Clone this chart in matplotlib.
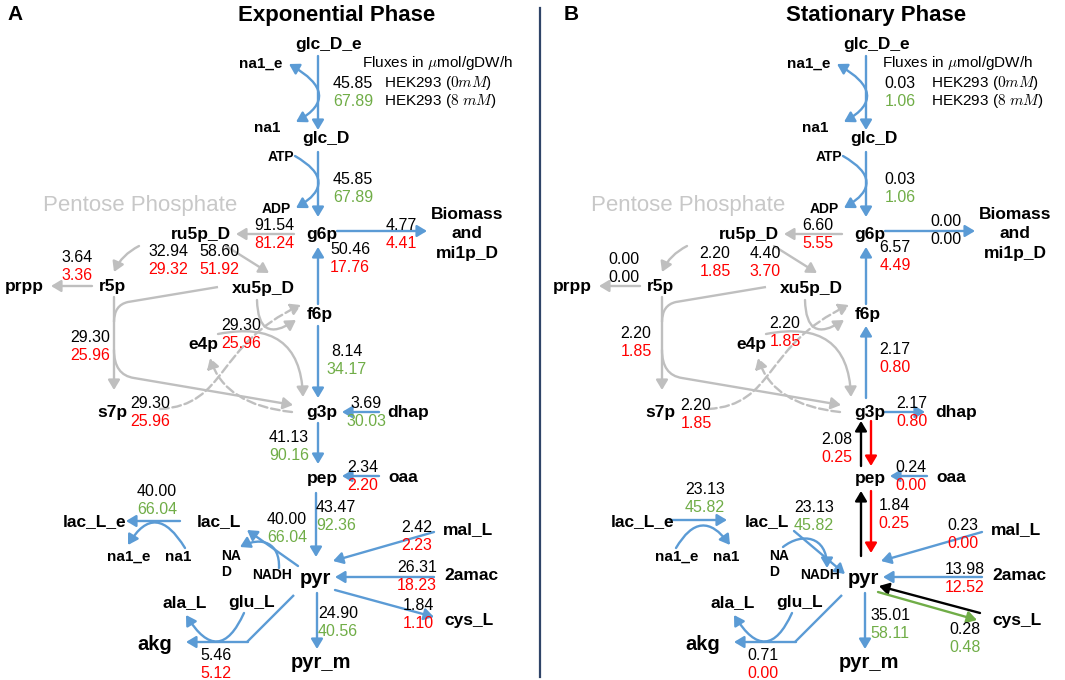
import numpy as np
import matplotlib
matplotlib.use("Agg")
import matplotlib.pyplot as plt
from matplotlib.patches import FancyArrowPatch, PathPatch
from matplotlib.path import Path

plt.rcParams['font.family'] = ['Liberation Sans', 'DejaVu Sans']
plt.rcParams['mathtext.fontset'] = 'cm'

# fluxes in umol/gDW/h, HEK293 at 0 mM and at 8 mM
reactions = ["glc_in", "hex", "g6p_ru5p", "biomass", "f6p_g6p", "ru5p_r5p",
             "ru5p_xu5p", "r5p_prpp", "r5p_s7p", "e4p_tkt", "s7p_tal",
             "f6p_g3p", "g3p_dhap", "g3p_pep", "oaa_pep", "pep_pyr",
             "lac_ex", "ldh", "mal_pyr", "amac_pyr", "cys_pyr", "pyr_m", "pyr_akg"]
exp_0mM = [45.85, 45.85, 91.54, 4.77, 50.46, 32.94, 58.60, 3.64, 29.30, 29.30, 29.30,
           8.14, 3.69, 41.13, 2.34, 43.47, 40.00, 40.00, 2.42, 26.31, 1.84, 24.90, 5.46]
exp_8mM = [67.89, 67.89, 81.24, 4.41, 17.76, 29.32, 51.92, 3.36, 25.96, 25.96, 25.96,
           34.17, 30.03, 90.16, 2.20, 92.36, 66.04, 66.04, 2.23, 18.23, 1.10, 40.56, 5.12]
sta_0mM = [0.03, 0.03, 6.60, 0.00, 6.57, 2.20, 4.40, 0.00, 2.20, 2.20, 2.20,
           2.17, 2.17, 2.08, 0.24, 1.84, 23.13, 23.13, 0.23, 13.98, 0.28, 35.01, 0.71]
sta_8mM = [1.06, 1.06, 5.55, 0.00, 4.49, 1.85, 3.70, 0.00, 1.85, 1.85, 1.85,
           0.80, 0.80, 0.25, 0.00, 0.25, 45.82, 45.82, 0.00, 12.52, 0.48, 58.11, 0.00]

panel_letters = ["A", "B"]
panel_titles = ["Exponential Phase", "Stationary Phase"]
conditions = [r"HEK293 ($0mM$)", r"HEK293 ($8\ mM$)"]

BLUE = '#5B9BD5'
GRAY = '#BFBFBF'
GREEN = '#70AD47'
RED = '#FF0000'
LW = 1.7
HEAD = '-|>,head_length=0.45,head_width=0.27'
MS = 13
DX = 548  # shift of panel B relative to panel A

# node labels: text, x, y, size (panel A coordinates)
nodes = [
    ("glc_D_e", 329, 44, 12.5), ("na1_e", 261, 64, 11), ("na1", 267, 128, 11),
    ("glc_D", 326, 139, 12.5), ("ATP", 281, 157, 10), ("ADP", 276, 209, 10),
    ("ru5p_D", 201, 234, 12.5), ("g6p", 322, 234, 12.5),
    ("Biomass\nand\nmi1p_D", 467, 234, 12.5),
    ("prpp", 24, 286, 12.5), ("r5p", 112, 286, 12.5), ("xu5p_D", 263, 288, 12.5),
    ("f6p", 320, 315, 12.5), ("e4p", 203, 344, 12.5), ("s7p", 112, 412, 12.5),
    ("g3p", 322, 412, 12.5), ("dhap", 408, 412, 12.5),
    ("pep", 322, 478, 12.5), ("oaa", 403, 478, 12.5),
    ("lac_L_e", 95, 522, 12.5), ("lac_L", 219, 522, 12.5), ("mal_L", 468, 530, 12.5),
    ("na1_e", 129, 557, 11), ("na1", 178, 557, 11),
    ("NADH", 272, 575, 10), ("pyr", 315, 578, 14.5), ("2amac", 471, 575, 12.5),
    ("ala_L", 185, 603, 12.5), ("glu_L", 252, 603, 12.5), ("cys_L", 469, 621, 12.5),
    ("akg", 155, 644, 14.5), ("pyr_m", 321, 663, 14.5),
]

# flux label positions (centre of the upper number)
label_pos = [
    {"glc_in": (353, 83), "hex": (353, 179), "g6p_ru5p": (274, 226), "biomass": (401, 225),
     "f6p_g6p": (350, 250), "ru5p_r5p": (168, 252), "ru5p_xu5p": (219, 252),
     "r5p_prpp": (77, 257), "r5p_s7p": (90, 337), "e4p_tkt": (241, 325),
     "s7p_tal": (150, 404), "f6p_g3p": (347, 351), "g3p_dhap": (366, 403),
     "g3p_pep": (289, 438), "oaa_pep": (363, 467), "pep_pyr": (336, 508),
     "lac_ex": (157, 491), "ldh": (287, 519), "mal_pyr": (417, 527),
     "amac_pyr": (417, 568), "cys_pyr": (418, 605), "pyr_m": (338, 613),
     "pyr_akg": (216, 655)},
    {"glc_in": (900, 83), "hex": (900, 180), "g6p_ru5p": (818, 226), "biomass": (946, 222),
     "f6p_g6p": (895, 248), "ru5p_r5p": (715, 253), "ru5p_xu5p": (765, 253),
     "r5p_prpp": (624, 259), "r5p_s7p": (636, 333), "e4p_tkt": (785, 323),
     "s7p_tal": (696, 405), "f6p_g3p": (895, 350), "g3p_dhap": (912, 403),
     "g3p_pep": (837, 440), "oaa_pep": (911, 468), "pep_pyr": (894, 506),
     "lac_ex": (705, 490), "ldh": (814, 508), "mal_pyr": (963, 525),
     "amac_pyr": (965, 569), "cys_pyr": (965, 630), "pyr_m": (890, 615),
     "pyr_akg": (763, 656)},
]


def change_color(v0, v8):
    if v8 > v0:
        return GREEN
    if v8 < v0:
        return RED
    return 'black'


def arrow(ax, p0, p1, color=BLUE, dx=0, ls='-', style=HEAD):
    a = FancyArrowPatch((p0[0] + dx, p0[1]), (p1[0] + dx, p1[1]), arrowstyle=style,
                        mutation_scale=MS, color=color, lw=LW, shrinkA=0, shrinkB=0,
                        linestyle=ls, zorder=1)
    ax.add_patch(a)


def curve(ax, pts, codes, color=BLUE, dx=0, ls='-', style=HEAD):
    verts = [(x + dx, y) for x, y in pts]
    p = Path(verts, codes)
    if style is None:
        ax.add_patch(PathPatch(p, fill=False, edgecolor=color, lw=LW, linestyle=ls, zorder=1))
    else:
        ax.add_patch(FancyArrowPatch(path=p, arrowstyle=style, mutation_scale=MS,
                                     color=color, lw=LW, linestyle=ls, zorder=1))


def quad(ax, p0, via, p1, **kw):
    c = (2 * via[0] - (p0[0] + p1[0]) / 2, 2 * via[1] - (p0[1] + p1[1]) / 2)
    curve(ax, [p0, c, p1], [Path.MOVETO, Path.CURVE3, Path.CURVE3], **kw)


def cubic(ax, p0, c1, c2, p1, **kw):
    curve(ax, [p0, c1, c2, p1], [Path.MOVETO, Path.CURVE4, Path.CURVE4, Path.CURVE4], **kw)


def draw_panel(ax, i, v0, v8):
    dx = DX * i
    stationary = i == 1
    M, L, Q = Path.MOVETO, Path.LINETO, Path.CURVE3

    # upper glycolysis and uptake
    arrow(ax, (318, 56), (318, 130), dx=dx)
    quad(ax, (289, 64), (318, 94), (296, 122), dx=dx,
         style='<|-|>,head_length=0.45,head_width=0.27')
    arrow(ax, (318, 152), (318, 217), dx=dx)
    quad(ax, (295, 156), (318, 182), (296, 208), dx=dx)
    arrow(ax, (337, 231), (427, 231), dx=dx)
    arrow(ax, (318, 304), (318, 247), dx=dx)

    # pentose phosphate
    arrow(ax, (294, 234), (236, 234), GRAY, dx)
    quad(ax, (139, 246), (124, 257), (114, 272), color=GRAY, dx=dx)
    arrow(ax, (226, 246), (269, 273), GRAY, dx)
    arrow(ax, (92, 286), (51, 286), GRAY, dx)
    arrow(ax, (114, 297), (114, 390), GRAY, dx)
    curve(ax, [(218, 287), (128, 302), (114, 305), (114, 322)], [M, L, Q, Q],
          color=GRAY, dx=dx, style=None)
    curve(ax, [(114, 350), (114, 375), (134, 378), (293, 405)], [M, Q, Q, L],
          color=GRAY, dx=dx)
    curve(ax, [(257, 300), (258, 345), (296, 320)], [M, Q, Q], color=GRAY, dx=dx)
    curve(ax, [(218, 334), (300, 318), (303, 397)], [M, Q, Q], color=GRAY, dx=dx)
    cubic(ax, (160, 409), (228, 405), (215, 345), (301, 305), color=GRAY, dx=dx, ls='--')
    curve(ax, [(292, 412), (225, 405), (210, 358)], [M, Q, Q], color=GRAY, dx=dx, ls='--')

    # lower glycolysis
    if not stationary:
        arrow(ax, (318, 326), (318, 398), dx=dx)
        arrow(ax, (379, 412), (342, 412), dx=dx)
        arrow(ax, (318, 423), (318, 464), dx=dx)
        arrow(ax, (316, 493), (316, 557), dx=dx)
    else:
        arrow(ax, (318, 398), (318, 326), dx=dx)
        arrow(ax, (337, 412), (377, 412), dx=dx)
        arrow(ax, (313, 466), (313, 421), 'black', dx)
        arrow(ax, (323, 421), (323, 466), RED, dx)
        arrow(ax, (313, 556), (313, 491), 'black', dx)
        arrow(ax, (323, 491), (323, 553), RED, dx)
    arrow(ax, (379, 476), (342, 476), dx=dx)

    # pyruvate node
    arrow(ax, (434, 532), (333, 561), dx=dx)
    arrow(ax, (434, 577), (335, 577), dx=dx)
    arrow(ax, (317, 593), (317, 649), dx=dx)
    ax.plot([294 + dx, 247 + dx], [595, 642], color=BLUE, lw=LW, zorder=1,
            solid_capstyle='butt')
    arrow(ax, (248, 642), (186, 642), dx=dx)
    quad(ax, (244, 613), (217, 641), (186, 615), dx=dx)
    if not stationary:
        arrow(ax, (180, 521), (126, 521), dx=dx)
        quad(ax, (185, 548), (156, 523), (128, 545), dx=dx)
        arrow(ax, (298, 566), (247, 530), dx=dx)
        cubic(ax, (279, 568), (280, 543), (262, 536), (240, 547), dx=dx)
        arrow(ax, (335, 590), (434, 617), dx=dx)
    else:
        arrow(ax, (122, 520), (179, 520), dx=dx)
        quad(ax, (128, 548), (154, 526), (182, 545), dx=dx)
        arrow(ax, (246, 531), (297, 574), dx=dx)
        cubic(ax, (235, 547), (254, 532), (279, 536), (279, 568), dx=dx)
        arrow(ax, (432, 613), (331, 586), 'black', dx)
        arrow(ax, (330, 592), (429, 620), GREEN, dx)

    # metabolite names
    for name, x, y, fs in nodes:
        ax.text(x + dx, y, name, ha='center', va='center', fontsize=fs,
                fontweight='bold', linespacing=1.4, zorder=3)
    ax.text(221 + dx, 564, "NA\nD", ha='left', va='center', fontsize=10,
            fontweight='bold', linespacing=1.25, zorder=3)
    ax.text(140 + dx, 206, "Pentose Phosphate", ha='center', va='center',
            fontsize=16, color='#C8C8C8', zorder=3)

    # flux values
    pos = label_pos[i]
    for key, a, b in zip(reactions, v0, v8):
        x, y = pos[key]
        ax.text(x, y, f"{a:.2f}", ha='center', va='center', fontsize=11.5, zorder=3)
        ax.text(x, y + 18, f"{b:.2f}", ha='center', va='center', fontsize=11.5,
                color=change_color(a, b), zorder=3)

    # header
    ax.text(15 + 556 * i, 15, panel_letters[i], ha='center', va='center',
            fontsize=15, fontweight='bold')
    ax.text(337 + 539 * i, 15, panel_titles[i], ha='center', va='center',
            fontsize=16, fontweight='bold')
    ax.text(362 + 520 * i, 63, r"Fluxes in $\mu$mol/gDW/h", ha='left', va='center',
            fontsize=11)
    for k, cond in enumerate(conditions):
        ax.text(384 + 547 * i, 83 + 18 * k, cond, ha='left', va='center', fontsize=11)


fig = plt.figure(figsize=(10.65, 6.8), dpi=100)
ax = fig.add_axes([0, 0, 1, 1])
ax.set_xlim(0, 1065)
ax.set_ylim(680, 0)
ax.axis('off')

draw_panel(ax, 0, exp_0mM, exp_8mM)
draw_panel(ax, 1, sta_0mM, sta_8mM)
ax.plot([540, 540], [8, 677], color='#2F4468', lw=1.6)

fig.savefig("out.png", dpi=100)
